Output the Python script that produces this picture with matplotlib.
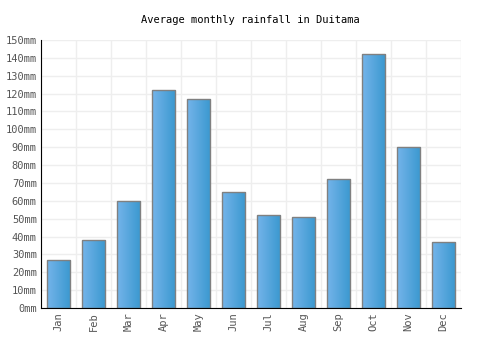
import numpy as np
import matplotlib
matplotlib.use("Agg")
import matplotlib.pyplot as plt
from matplotlib.colors import LinearSegmentedColormap

months = ["Jan", "Feb", "Mar", "Apr", "May", "Jun",
          "Jul", "Aug", "Sep", "Oct", "Nov", "Dec"]
rainfall = [27, 38, 60, 122, 117, 65, 52, 51, 72, 142, 90, 37]
y_ticks = list(range(0, 151, 10))
y_labels = ["%dmm" % v for v in y_ticks]

plt.rcParams['font.family'] = ['DejaVu Sans Mono']

fig = plt.figure(figsize=(5, 3.5), dpi=100)
ax = fig.add_axes([0.082, 0.12, 0.84, 0.766])

x = np.arange(len(months))
bars = ax.bar(x, rainfall, width=0.66, color='#55a5dd',
              edgecolor='#808080', linewidth=1, zorder=3)

# left-to-right gradient inside each bar
grad = LinearSegmentedColormap.from_list('g', ['#74b4ea', '#3a98cf'])
ramp = np.linspace(0, 1, 64).reshape(1, -1)
for b in bars:
    x0, y0 = b.get_x(), b.get_y()
    im = ax.imshow(ramp, cmap=grad, aspect='auto', zorder=3.5,
                   extent=[x0, x0 + b.get_width(), y0, y0 + b.get_height()])
    im.set_clip_path(b)
    b.set_facecolor('none')
    b.set_zorder(4)

ax.set_xlim(-0.5, len(months) - 0.5)
ax.set_ylim(0, 150)
ax.set_yticks(y_ticks)
ax.set_yticklabels(y_labels)
ax.set_xticks(x)
ax.set_xticklabels(months, rotation=90)
ax.set_xticks(np.arange(-0.5, len(months), 1), minor=True)

ax.grid(False)
ax.yaxis.grid(True, color='#eeeeee', linewidth=1, zorder=0)
ax.xaxis.grid(True, which='minor', color='#eeeeee', linewidth=1, zorder=0)

ax.tick_params(axis='both', which='both', length=0, labelsize=7.5,
               labelcolor='#555555', pad=3)
for s in ['top', 'right']:
    ax.spines[s].set_visible(False)
ax.spines['left'].set_color('black')
ax.spines['bottom'].set_color('black')
ax.spines['left'].set_zorder(5)
ax.spines['bottom'].set_zorder(5)

fig.text(0.5, 0.943, "Average monthly rainfall in Duitama", ha='center',
         va='center', fontsize=7.5, color='black')

fig.savefig("out.png", dpi=100)
